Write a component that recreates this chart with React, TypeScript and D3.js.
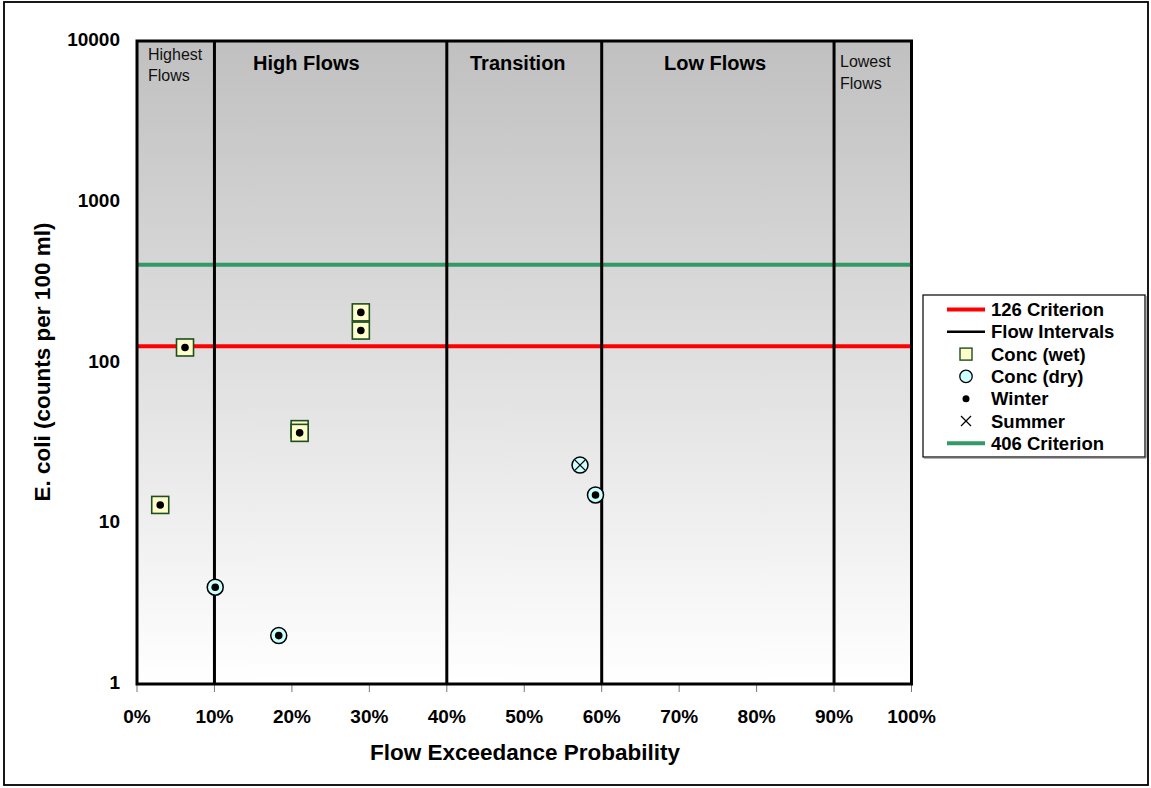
import React from "react";
import * as d3 from "d3";

const yTicks = [1, 10, 100, 1000, 10000];
const xTicks = [0, 0.1, 0.2, 0.3, 0.4, 0.5, 0.6, 0.7, 0.8, 0.9, 1.0];
const flowIntervals = [0.1, 0.4, 0.6, 0.9];
const criterion126 = 126;
const criterion406 = 406;

const wetX = [0.03, 0.062, 0.21, 0.21, 0.289, 0.289];
const wetY = [13, 124, 38.5, 36.5, 205, 158];
const wetSeason = ["W", "W", "W", "W", "W", "W"];

const dryX = [0.101, 0.183, 0.572, 0.592];
const dryY = [4, 2, 23, 15];
const drySeason = ["W", "W", "S", "W"];

const legendItems = ["126 Criterion", "Flow Intervals", "Conc (wet)", "Conc (dry)", "Winter", "Summer", "406 Criterion"];

const FONT = "Arial, 'Liberation Sans', sans-serif";

export default function App() {
  const W = 1151, H = 788;
  const left = 137, right = 911.5, top = 41, bottom = 684;
  const x = d3.scaleLinear().domain([0, 1]).range([left, right]);
  const y = d3.scaleLog().domain([1, 10000]).range([bottom, top]);
  const fmtPct = d3.format(".0%");

  const Dot = ({ cx, cy, r = 3.8 }: any) => <circle cx={cx} cy={cy} r={r} fill="#000" />;
  const Cross = ({ cx, cy, s = 5 }: any) => (
    <g stroke="#000" strokeWidth={1.3}>
      <line x1={cx - s} y1={cy - s} x2={cx + s} y2={cy + s} />
      <line x1={cx - s} y1={cy + s} x2={cx + s} y2={cy - s} />
    </g>
  );

  const lgX = 923, lgY = 295, lgW = 222, lgH = 162;
  const rowY = (i: number) => 309.5 + i * 22.3;

  return (
    <svg width={W} height={H} style={{ position: "fixed", left: 0, top: 0, background: "#fff" }} fontFamily={FONT}>
      <defs>
        <linearGradient id="bg" x1="0" y1="0" x2="0" y2="1">
          <stop offset="0" stopColor="#c0c0c0" />
          <stop offset="1" stopColor="#ffffff" />
        </linearGradient>
      </defs>
      <rect x={4} y={2} width={1144} height={783} fill="#fff" stroke="#000" strokeWidth={1.8} />
      <rect x={left} y={top} width={right - left} height={bottom - top} fill="url(#bg)" />

      {/* x tick marks */}
      {xTicks.map((t) => (
        <line key={"xt" + t} x1={x(t)} x2={x(t)} y1={bottom} y2={bottom + 8} stroke="#777" strokeWidth={1} />
      ))}

      {/* criterion lines */}
      <line x1={left} x2={right} y1={y(criterion406)} y2={y(criterion406)} stroke="#339966" strokeWidth={4} />
      <line x1={left} x2={right} y1={y(criterion126)} y2={y(criterion126)} stroke="#ff0000" strokeWidth={4} />

      {/* flow intervals */}
      {flowIntervals.map((f) => (
        <line key={"fi" + f} x1={x(f)} x2={x(f)} y1={top} y2={bottom} stroke="#000" strokeWidth={3} />
      ))}
      <rect x={left} y={top} width={right - left} height={bottom - top} fill="none" stroke="#000" strokeWidth={3} />

      {/* zone labels */}
      <text x={148} y={60} fontSize={16} fill="#111">Highest</text>
      <text x={148} y={81} fontSize={16} fill="#111">Flows</text>
      <text x={253} y={70} fontSize={20} fontWeight="bold" fill="#000">High Flows</text>
      <text x={470} y={70} fontSize={20} fontWeight="bold" fill="#000">Transition</text>
      <text x={664} y={70} fontSize={20} fontWeight="bold" fill="#000">Low Flows</text>
      <text x={840} y={66.5} fontSize={16} fill="#111">Lowest</text>
      <text x={840} y={89} fontSize={16} fill="#111">Flows</text>

      {/* wet points */}
      {wetX.map((v, i) => {
        const cx = x(v), cy = y(wetY[i]);
        return (
          <g key={"w" + i}>
            <rect x={cx - 8.5} y={cy - 8.5} width={17} height={17} fill="#ffffcc" stroke="#1e4d1e" strokeWidth={1.6} />
            {wetSeason[i] === "W" ? <Dot cx={cx} cy={cy} /> : <Cross cx={cx} cy={cy} />}
          </g>
        );
      })}
      {/* dry points */}
      {dryX.map((v, i) => {
        const cx = x(v), cy = y(dryY[i]);
        return (
          <g key={"d" + i}>
            <circle cx={cx} cy={cy} r={8} fill="#ccffff" stroke="#000" strokeWidth={1.5} />
            {drySeason[i] === "W" ? <Dot cx={cx} cy={cy} /> : <Cross cx={cx} cy={cy} />}
          </g>
        );
      })}

      {/* y tick labels */}
      {yTicks.map((t) => (
        <text key={"yl" + t} x={120} y={y(t) + 5} textAnchor="end" fontSize={19} fontWeight="bold">{t}</text>
      ))}
      {/* x tick labels */}
      {xTicks.map((t) => (
        <text key={"xl" + t} x={x(t)} y={723} textAnchor="middle" fontSize={19} fontWeight="bold">{fmtPct(t)}</text>
      ))}

      <text x={525} y={760} textAnchor="middle" fontSize={22.5} fontWeight="bold">Flow Exceedance Probability</text>
      <text transform={`translate(50,362) rotate(-90)`} textAnchor="middle" fontSize={22.5} fontWeight="bold">E. coli (counts per 100 ml)</text>

      {/* legend */}
      <rect x={lgX} y={lgY} width={lgW} height={lgH} fill="#fff" stroke="#000" strokeWidth={1.2} />
      <line x1={lgX + 1} x2={lgX + lgW + 1} y1={lgY + lgH + 1} y2={lgY + lgH + 1} stroke="#666" strokeWidth={1} />
      <line x1={lgX + lgW + 1} x2={lgX + lgW + 1} y1={lgY + 1} y2={lgY + lgH + 1} stroke="#666" strokeWidth={1} />
      {legendItems.map((name, i) => {
        const cy = rowY(i), mx = 966;
        let marker: any = null;
        if (i === 0) marker = <line x1={947} x2={985} y1={cy} y2={cy} stroke="#ff0000" strokeWidth={4} />;
        else if (i === 1) marker = <line x1={947} x2={985} y1={cy} y2={cy} stroke="#000" strokeWidth={2.5} />;
        else if (i === 2) marker = <rect x={mx - 6} y={cy - 6} width={12} height={12} fill="#ffffcc" stroke="#1e4d1e" strokeWidth={1.4} />;
        else if (i === 3) marker = <circle cx={mx} cy={cy} r={6.2} fill="#ccffff" stroke="#000" strokeWidth={1.3} />;
        else if (i === 4) marker = <Dot cx={mx} cy={cy} r={3.5} />;
        else if (i === 5) marker = <Cross cx={mx} cy={cy} s={5} />;
        else marker = <line x1={947} x2={985} y1={cy} y2={cy} stroke="#339966" strokeWidth={4} />;
        return (
          <g key={"lg" + i}>
            {marker}
            <text x={991} y={cy + 6.5} fontSize={18.5} fontWeight="bold">{name}</text>
          </g>
        );
      })}
    </svg>
  );
}
